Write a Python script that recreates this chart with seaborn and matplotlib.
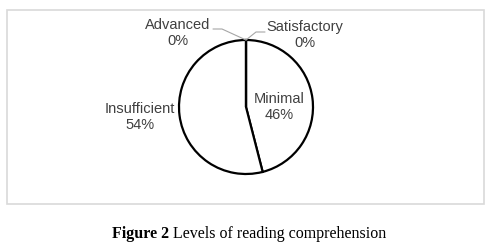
import matplotlib
matplotlib.use("Agg")
import matplotlib.pyplot as plt
import matplotlib.patches as mpatches
import seaborn as sns

# data
levels = ["Satisfactory", "Minimal", "Insufficient", "Advanced"]
shares = [0, 46, 54, 0]
caption_bold = "Figure 2"
caption_rest = " Levels of reading comprehension"

sns.set_theme(style="white")
plt.rcParams['font.family'] = ['Liberation Sans', 'DejaVu Sans']

W, H = 502, 246
fig = plt.figure(figsize=(W / 100, H / 100), dpi=100)
ax = fig.add_axes([0, 0, 1, 1])

# chart frame
ax.add_patch(mpatches.Rectangle((7.5, H - 204), 477, 194, fill=False,
                                edgecolor='#d9d9d9', linewidth=1.2))

cx, cy, r = 246, H - 107, 67
wedges, _ = ax.pie(shares, center=(cx, cy), radius=r, startangle=90,
                   counterclock=False, colors=['white'] * len(shares),
                   wedgeprops=dict(edgecolor='black', linewidth=1.6),
                   frame=True)
ax.set_xlim(0, W)
ax.set_ylim(0, H)
ax.set_aspect('equal')
ax.axis('off')

txt = dict(color='#404040', fontsize=10.5, ha='center', va='center', linespacing=1.1)
top = (cx, cy + r)

# labels
ax.text(279, H - 107, f"{levels[1]}\n{shares[1]}%", **txt)
ax.text(140, H - 117, f"{levels[2]}\n{shares[2]}%", **txt)
ax.text(178, H - 33, f"{levels[3]}\n{shares[3]}%", **txt)
ax.text(305, H - 35, f"{levels[0]}\n{shares[0]}%", **txt)

# leader lines
ax.plot([top[0], 222, 213], [top[1], H - 29, H - 29], color='#a6a6a6', lw=0.8)
ax.plot([top[0], 256, 265], [top[1], H - 32, H - 32], color='#a6a6a6', lw=0.8)

# caption: bold part + regular part, centred as one line
fs = 11.5
cap = ax.text(247, H - 234, caption_bold + caption_rest, family='Liberation Serif',
              fontsize=fs, ha='center', va='center', color='white')
fig.canvas.draw()
bb = cap.get_window_extent().transformed(ax.transData.inverted())
cap.remove()
t1 = ax.text(bb.x0, H - 234, caption_bold, family='Liberation Serif', fontsize=fs,
             fontweight='bold', ha='left', va='center', color='black')
fig.canvas.draw()
b1 = t1.get_window_extent().transformed(ax.transData.inverted())
ax.text(b1.x1, H - 234, caption_rest, family='Liberation Serif', fontsize=fs,
        ha='left', va='center', color='black')

fig.savefig('out.png', dpi=100)
